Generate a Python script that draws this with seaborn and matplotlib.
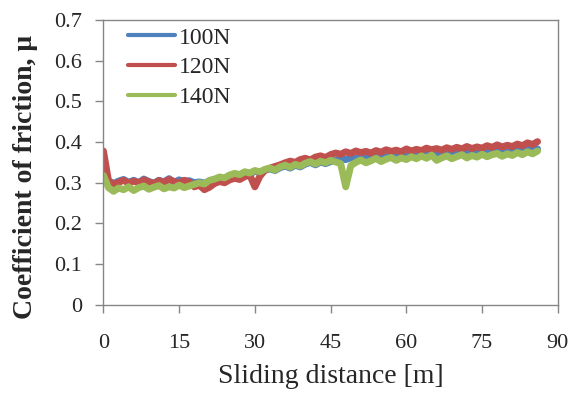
import matplotlib
matplotlib.use("Agg")
import matplotlib.pyplot as plt
import seaborn as sns
import pandas as pd

distance = list(range(0, 87))

mu_100N = [0.330, 0.305, 0.298, 0.304, 0.308, 0.301, 0.306, 0.300, 0.309, 0.303,
           0.299, 0.306, 0.302, 0.310, 0.301, 0.307, 0.303, 0.305, 0.300, 0.302,
           0.299, 0.304, 0.307, 0.311, 0.309, 0.317, 0.320, 0.318, 0.325, 0.322,
           0.328, 0.325, 0.331, 0.334, 0.330, 0.337, 0.341, 0.336, 0.343, 0.339,
           0.346, 0.350, 0.344, 0.351, 0.347, 0.352, 0.355, 0.358, 0.357, 0.361,
           0.359, 0.364, 0.360, 0.365, 0.362, 0.367, 0.363, 0.368, 0.365, 0.369,
           0.366, 0.371, 0.367, 0.372, 0.369, 0.373, 0.370, 0.374, 0.371, 0.376,
           0.372, 0.377, 0.374, 0.378, 0.375, 0.379, 0.376, 0.381, 0.377, 0.382,
           0.379, 0.383, 0.380, 0.385, 0.381, 0.387, 0.383]

mu_120N = [0.378, 0.305, 0.296, 0.301, 0.306, 0.299, 0.304, 0.300, 0.307, 0.302,
           0.298, 0.305, 0.301, 0.308, 0.303, 0.299, 0.306, 0.302, 0.290, 0.294,
           0.283, 0.289, 0.298, 0.303, 0.300, 0.307, 0.311, 0.308, 0.315, 0.319,
           0.290, 0.316, 0.331, 0.336, 0.340, 0.344, 0.349, 0.353, 0.350, 0.357,
           0.360, 0.356, 0.363, 0.366, 0.362, 0.369, 0.373, 0.370, 0.376, 0.372,
           0.378, 0.374, 0.377, 0.373, 0.379, 0.375, 0.381, 0.377, 0.380, 0.376,
           0.383, 0.378, 0.382, 0.379, 0.385, 0.381, 0.384, 0.380, 0.386, 0.382,
           0.387, 0.383, 0.389, 0.384, 0.388, 0.385, 0.391, 0.387, 0.393, 0.388,
           0.392, 0.389, 0.395, 0.391, 0.398, 0.394, 0.401]

mu_140N = [0.318, 0.288, 0.279, 0.287, 0.283, 0.290, 0.281, 0.288, 0.292, 0.284,
           0.289, 0.293, 0.285, 0.290, 0.287, 0.294, 0.288, 0.292, 0.296, 0.300,
           0.297, 0.306, 0.309, 0.314, 0.312, 0.319, 0.323, 0.320, 0.327, 0.324,
           0.330, 0.327, 0.333, 0.336, 0.331, 0.339, 0.343, 0.338, 0.345, 0.341,
           0.348, 0.352, 0.346, 0.353, 0.349, 0.355, 0.351, 0.347, 0.290, 0.342,
           0.350, 0.356, 0.349, 0.354, 0.360, 0.352, 0.358, 0.362, 0.355, 0.361,
           0.357, 0.364, 0.359, 0.366, 0.360, 0.368, 0.355, 0.361, 0.366, 0.359,
           0.364, 0.369, 0.361, 0.367, 0.363, 0.370, 0.364, 0.369, 0.372, 0.365,
           0.371, 0.367, 0.374, 0.369, 0.376, 0.371, 0.378]

loads = ["100N", "120N", "140N"]
colors = ["#4F81BD", "#C0504D", "#9BBB59"]
x_ticks = [0, 15, 30, 45, 60, 75, 90]
y_ticks = [0, 0.1, 0.2, 0.3, 0.4, 0.5, 0.6, 0.7]
y_tick_labels = ["0", "0.1", "0.2", "0.3", "0.4", "0.5", "0.6", "0.7"]

frames = []
for name, vals in zip(loads, [mu_100N, mu_120N, mu_140N]):
    frames.append(pd.DataFrame({"distance": distance, "mu": vals, "load": name}))
df = pd.concat(frames, ignore_index=True)

sns.set_style("white")
plt.rcParams["font.family"] = ["Liberation Serif", "DejaVu Serif"]

fig = plt.figure(figsize=(5.81, 3.99), dpi=100)
ax = fig.add_axes([0.178, 0.236, 0.782, 0.714])

sns.lineplot(data=df, x="distance", y="mu", hue="load", hue_order=loads,
             palette=colors, linewidth=5, ax=ax, estimator=None, sort=False)

ax.set_xlim(0, 90)
ax.set_ylim(0, 0.7)
ax.set_xticks(x_ticks)
ax.set_xticklabels([str(t) for t in x_ticks])
ax.set_yticks(y_ticks)
ax.set_yticklabels(y_tick_labels)
ax.tick_params(axis="both", direction="out", length=6, width=1, color="#868686",
               labelsize=16, bottom=True, left=True)
ax.tick_params(axis="x", pad=15)
ax.tick_params(axis="y", pad=9.5)
for s in ax.spines.values():
    s.set_color("#868686")
    s.set_linewidth(1)

ax.set_xlabel("Sliding distance [m]", fontsize=20, labelpad=8)
ax.set_ylabel("Coefficient of friction, μ", fontsize=20, fontweight="bold")
ax.yaxis.set_label_coords(-0.145, 0.45)

leg = ax.legend(loc="upper left", frameon=False, fontsize=17, handlelength=2.0,
                handletextpad=0.15, labelspacing=0.35, borderaxespad=0,
                borderpad=0, bbox_to_anchor=(0.054, 0.975))
for line in leg.get_lines():
    line.set_linewidth(3)

fig.savefig("out.png", dpi=100)
